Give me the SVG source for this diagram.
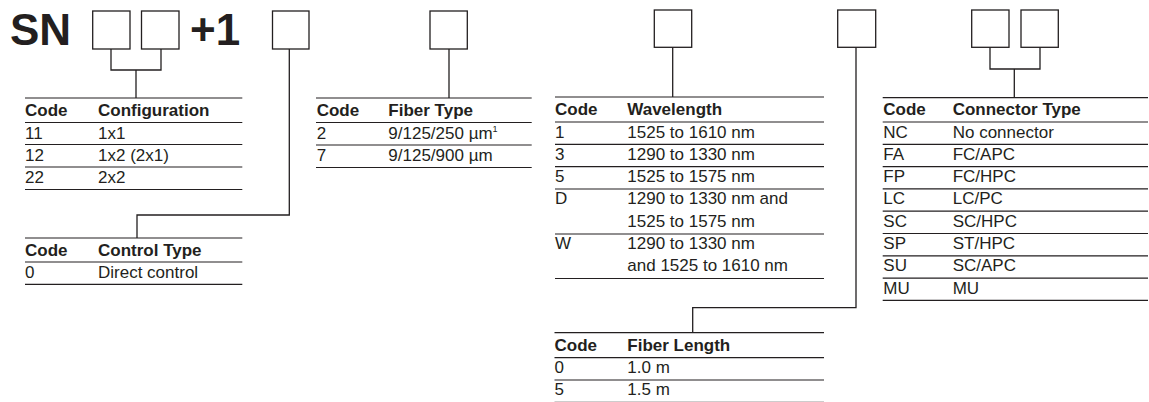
<svg xmlns="http://www.w3.org/2000/svg" width="1149" height="402" viewBox="0 0 1149 402">
<style>
.t{font-family:"Liberation Sans",Arial,sans-serif;font-size:17px;fill:#231f20}
.h{font-weight:bold}
.big{font-family:"Liberation Sans",Arial,sans-serif;font-size:44px;font-weight:bold;fill:#231f20}
.box{fill:#fff;stroke:#231f20;stroke-width:1.3}
.rl{stroke:#231f20;stroke-width:1.2;fill:none}
.cn{stroke:#231f20;stroke-width:1.3;fill:none}
</style>
<rect width="1149" height="402" fill="#fff"/>
<g id="title">
<text class="big" x="10" y="45">SN</text>
<text class="big" x="190" y="45">+1</text>
</g>
<g id="boxes">
<rect class="box" x="92.7" y="11" width="37.3" height="38"/>
<rect class="box" x="141.5" y="11" width="37.5" height="38"/>
<rect class="box" x="272.5" y="11" width="36.5" height="38"/>
<rect class="box" x="430" y="11" width="37.3" height="38"/>
<rect class="box" x="654.3" y="10" width="37.4" height="37.3"/>
<rect class="box" x="837.7" y="10" width="38" height="37.3"/>
<rect class="box" x="971.7" y="10" width="37.3" height="37.3"/>
<rect class="box" x="1021" y="10" width="37.3" height="37.3"/>
</g>
<g id="connectors">
<path class="cn" d="M111 49V70H161V49M136 70V98"/>
<path class="cn" d="M289.3 49V215H137V238"/>
<path class="cn" d="M449 49V98"/>
<path class="cn" d="M672.7 47.3V97"/>
<path class="cn" d="M856 47.3V307.7H692.7V332.7"/>
<path class="cn" d="M990 47.3V69H1040V47.3M1014.3 69V97.7"/>
</g>
<g id="configuration">
<path class="rl" d="M25 98H242.3M25 122.5H242.3M25 144.5H242.3M25 167H242.3M25 189.5H242.3"/>
<text class="t h" x="25" y="115.5">Code</text><text class="t h" x="98" y="115.5">Configuration</text>
<text class="t" x="25" y="138.5">11</text><text class="t" x="98" y="138.5">1x1</text>
<text class="t" x="25" y="160.5">12</text><text class="t" x="98" y="160.5">1x2 (2x1)</text>
<text class="t" x="25" y="183">22</text><text class="t" x="98" y="183">2x2</text>
</g>
<g id="control-type">
<path class="rl" d="M25 238H242.3M25 262H242.3M25 284.3H242.3"/>
<text class="t h" x="25" y="255.5">Code</text><text class="t h" x="98" y="255.5">Control Type</text>
<text class="t" x="25" y="278">0</text><text class="t" x="98" y="278">Direct control</text>
</g>
<g id="fiber-type">
<path class="rl" d="M316 98H531.7M316 122.5H531.7M316 145H531.7M316 167.5H531.7"/>
<text class="t h" x="316.7" y="115.5">Code</text><text class="t h" x="388.3" y="115.5">Fiber Type</text>
<text class="t" x="316.7" y="138.5">2</text><text class="t" x="388.3" y="138.5">9/125/250 µm<tspan font-size="9" dy="-7">1</tspan></text>
<text class="t" x="316.7" y="161">7</text><text class="t" x="388.3" y="161">9/125/900 µm</text>
</g>
<g id="wavelength">
<path class="rl" d="M555 97H824M555 122H824M555 144.3H824M555 166.6H824M555 189H824M555 234H824M555 278.5H824"/>
<text class="t h" x="555" y="115">Code</text><text class="t h" x="627.3" y="115">Wavelength</text>
<text class="t" x="555" y="137.5">1</text><text class="t" x="627.3" y="137.5">1525 to 1610 nm</text>
<text class="t" x="555" y="159.8">3</text><text class="t" x="627.3" y="159.8">1290 to 1330 nm</text>
<text class="t" x="555" y="182.1">5</text><text class="t" x="627.3" y="182.1">1525 to 1575 nm</text>
<text class="t" x="555" y="204">D</text><text class="t" x="627.3" y="204">1290 to 1330 nm and</text>
<text class="t" x="627.3" y="226.5">1525 to 1575 nm</text>
<text class="t" x="555" y="248.5">W</text><text class="t" x="627.3" y="248.5">1290 to 1330 nm</text>
<text class="t" x="627.3" y="271">and 1525 to 1610 nm</text>
</g>
<g id="fiber-length">
<path class="rl" d="M554.5 332.7H824M554.5 357.7H824M554.5 380H824"/>
<path d="M554.5 401.6H824" stroke="#231f20" stroke-opacity="0.25" stroke-width="1"/>
<text class="t h" x="554.5" y="350.5">Code</text><text class="t h" x="627.3" y="350.5">Fiber Length</text>
<text class="t" x="554.5" y="373">0</text><text class="t" x="627.3" y="373">1.0 m</text>
<text class="t" x="554.5" y="395.3">5</text><text class="t" x="627.3" y="395.3">1.5 m</text>
</g>
<g id="connector-type">
<path class="rl" d="M882.7 97.7H1148M882.7 122H1148M882.7 144.3H1148M882.7 166.6H1148M882.7 188.9H1148M882.7 211.2H1148M882.7 233.5H1148M882.7 255.8H1148M882.7 278.1H1148M882.7 300.4H1148"/>
<text class="t h" x="883.3" y="115">Code</text><text class="t h" x="952.7" y="115">Connector Type</text>
<text class="t" x="883.3" y="137.5">NC</text><text class="t" x="952.7" y="137.5">No connector</text>
<text class="t" x="883.3" y="159.8">FA</text><text class="t" x="952.7" y="159.8">FC/APC</text>
<text class="t" x="883.3" y="182.1">FP</text><text class="t" x="952.7" y="182.1">FC/HPC</text>
<text class="t" x="883.3" y="204.4">LC</text><text class="t" x="952.7" y="204.4">LC/PC</text>
<text class="t" x="883.3" y="226.7">SC</text><text class="t" x="952.7" y="226.7">SC/HPC</text>
<text class="t" x="883.3" y="249">SP</text><text class="t" x="952.7" y="249">ST/HPC</text>
<text class="t" x="883.3" y="271.3">SU</text><text class="t" x="952.7" y="271.3">SC/APC</text>
<text class="t" x="883.3" y="293.6">MU</text><text class="t" x="952.7" y="293.6">MU</text>
</g>
</svg>
